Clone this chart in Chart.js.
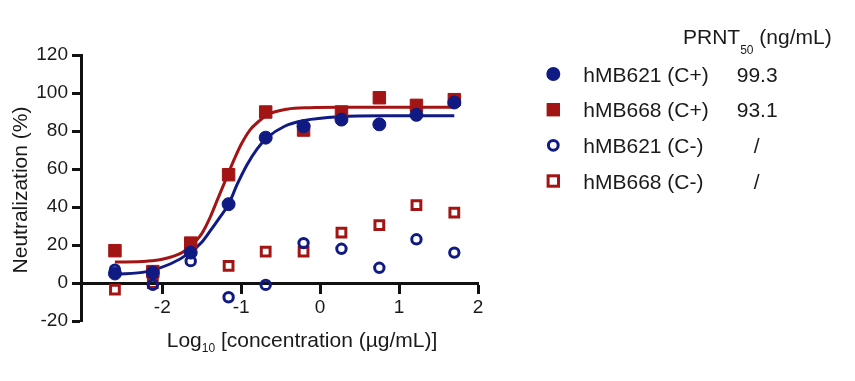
<!DOCTYPE html>
<html>
<head>
<meta charset="utf-8">
<script src="https://cdn.jsdelivr.net/npm/chart.js@4.4.0/dist/chart.umd.min.js"></script>
<style>
  html, body { margin: 0; padding: 0; background: #fff; }
</style>
</head>
<body>
<canvas id="neut-chart" width="855" height="381"></canvas>
<script>
// Log10 concentration (µg/mL) of the dilution series
const logConc = [-2.6, -2.12, -1.64, -1.16, -0.69, -0.21, 0.27, 0.75, 1.22, 1.7];

// Neutralization (%)
const hMB621_pos = [5, 5.5, 16, 41.5, 76.5, 82.5, 86, 83.5, 88.5, 95];
const hMB668_pos = [17, 6, 21, 57, 90, 80.5, 90, 97.5, 93.5, 96.5];
const hMB621_neg = [7, -1, 11.5, -7.5, -1, 21, 18, 8, 23, 16];
const hMB668_neg = [-3.5, 0, 21, 9, 16.5, 16.5, 26.5, 30.5, 41, 37];

// fitted curves
const fit621X = [-2.6, -2.2, -1.9, -1.65, -1.5, -1.4, -1.28, -1.16, -1.05, -0.93, -0.8, -0.67, -0.45, -0.2, 0.25, 0.8, 1.7];
const fit621Y = [4.5, 6, 10, 16, 21.5, 27, 34, 41.5, 52, 62, 70.5, 76.5, 82.5, 85.5, 87.5, 88, 88];
const fit668X = [-2.6, -2.2, -2.0, -1.75, -1.64, -1.5, -1.4, -1.3, -1.2, -1.1, -1.0, -0.89, -0.78, -0.67, -0.42, -0.13, 0.25, 0.8, 1.7];
const fit668Y = [11, 11.5, 12.5, 16, 19.5, 26, 34, 44, 54, 64, 73, 80.5, 85, 88.5, 91.5, 92.3, 92.5, 92.5, 92.5];

// legend table
const seriesNames = ['hMB621 (C+)', 'hMB668 (C+)', 'hMB621 (C-)', 'hMB668 (C-)'];
const prnt50 = ['99.3', '93.1', '/', '/'];

const xTicks = [-2, -1, 0, 1, 2];
const yTicks = [-20, 0, 20, 40, 60, 80, 100, 120];

const BLUE = '#0f1a82';
const RED = '#a31515';
const INK = '#1a1a1a';
const FONT = '"Liberation Sans", Arial, sans-serif';

function pts(xs, ys) {
  return xs.map((x, i) => ({ x: x, y: ys[i] }));
}

// titles with subscripts + the PRNT50 legend table
const extras = {
  id: 'extras',
  afterDraw(chart) {
    const ctx = chart.ctx;
    ctx.save();
    ctx.fillStyle = INK;

    // y title
    ctx.save();
    ctx.translate(27, 190);
    ctx.rotate(-Math.PI / 2);
    ctx.font = '21px ' + FONT;
    ctx.textAlign = 'center';
    ctx.textBaseline = 'alphabetic';
    ctx.fillText('Neutralization (%)', 0, 0);
    ctx.restore();

    // x title: Log10 [concentration (µg/mL)]
    ctx.textBaseline = 'alphabetic';
    ctx.textAlign = 'left';
    ctx.font = '21px ' + FONT;
    const a = 'Log', b = ' [concentration (µg/mL)]';
    const wa = ctx.measureText(a).width, wb = ctx.measureText(b).width;
    ctx.font = '12px ' + FONT;
    const ws = ctx.measureText('10').width;
    let x0 = 302 - (wa + ws + wb) / 2;
    ctx.font = '21px ' + FONT;
    ctx.fillText(a, x0, 347);
    ctx.font = '12px ' + FONT;
    ctx.fillText('10', x0 + wa, 352);
    ctx.font = '21px ' + FONT;
    ctx.fillText(b, x0 + wa + ws, 347);

    // legend header: PRNT50 (ng/mL)
    ctx.font = '21px ' + FONT;
    const wp = ctx.measureText('PRNT').width;
    ctx.fillText('PRNT', 683, 43.5);
    ctx.font = '12px ' + FONT;
    const w50 = ctx.measureText('50').width;
    ctx.fillText('50', 683 + wp, 54);
    ctx.font = '21px ' + FONT;
    ctx.fillText(' (ng/mL)', 683 + wp + w50, 43.5);

    // legend rows
    const rowY = [74, 109.7, 145.3, 181];
    const colors = [BLUE, RED, BLUE, RED];
    seriesNames.forEach((name, i) => {
      const cy = rowY[i];
      const mx = 553.3;
      ctx.fillStyle = colors[i];
      ctx.strokeStyle = colors[i];
      ctx.lineWidth = 3;
      if (i === 0) {
        ctx.beginPath(); ctx.arc(mx, cy, 7, 0, Math.PI * 2); ctx.fill();
      } else if (i === 1) {
        ctx.fillRect(mx - 6.7, cy - 6.7, 13.4, 13.4);
      } else if (i === 2) {
        ctx.beginPath(); ctx.arc(mx, cy, 4.9, 0, Math.PI * 2); ctx.stroke();
      } else {
        ctx.strokeRect(mx - 5.2, cy - 5.2, 10.4, 10.4);
      }
      ctx.fillStyle = INK;
      ctx.font = '21px ' + FONT;
      ctx.textAlign = 'left';
      ctx.fillText(name, 583.3, cy + 7.7);
      if (prnt50[i] === '/') {
        ctx.textAlign = 'center';
        ctx.fillText(prnt50[i], 756.7, cy + 7.7);
      } else {
        ctx.fillText(prnt50[i], 736.7, cy + 7.7);
      }
    });
    ctx.restore();
  }
};

const ctxNeut = document.getElementById('neut-chart');

new Chart(ctxNeut, {
  type: 'scatter',
  data: {
    datasets: [
      {
        label: seriesNames[0], data: pts(logConc, hMB621_pos), order: 0,
        pointStyle: 'circle', pointRadius: 6.5, pointBorderWidth: 1,
        backgroundColor: BLUE, borderColor: BLUE
      },
      {
        label: seriesNames[1], data: pts(logConc, hMB668_pos), order: 1,
        pointStyle: 'rect', pointRadius: 8.8, pointBorderWidth: 1,
        backgroundColor: RED, borderColor: RED
      },
      {
        label: seriesNames[2], data: pts(logConc, hMB621_neg), order: 2,
        pointStyle: 'circle', pointRadius: 4.7, pointBorderWidth: 3,
        backgroundColor: 'rgba(0,0,0,0)', borderColor: BLUE
      },
      {
        label: seriesNames[3], data: pts(logConc, hMB668_neg), order: 3,
        pointStyle: 'rect', pointRadius: 6.2, pointBorderWidth: 3,
        backgroundColor: 'rgba(0,0,0,0)', borderColor: RED
      },
      {
        label: 'fit hMB621', data: pts(fit621X, fit621Y), order: 4,
        showLine: true, pointRadius: 0, borderWidth: 3, borderColor: BLUE,
        cubicInterpolationMode: 'monotone'
      },
      {
        label: 'fit hMB668', data: pts(fit668X, fit668Y), order: 5,
        showLine: true, pointRadius: 0, borderWidth: 3, borderColor: RED,
        cubicInterpolationMode: 'monotone'
      }
    ]
  },
  options: {
    responsive: false,
    animation: false,
    layout: { padding: { top: 55, right: 377, bottom: 60, left: 0 } },
    plugins: {
      legend: { display: false },
      tooltip: { enabled: false }
    },
    scales: {
      x: {
        type: 'linear',
        position: { y: 0 },
        min: -3.03,
        max: 2,
        afterBuildTicks: (scale) => { scale.ticks = xTicks.map(v => ({ value: v })); },
        afterFit: (scale) => { scale.height = 0; },
        ticks: { color: INK, font: { family: FONT, size: 19 }, padding: 4 },
        grid: { drawOnChartArea: false, drawTicks: true, tickLength: 9, tickWidth: 3, tickColor: '#111' },
        border: { display: true, width: 3, color: '#111' },
        title: { display: false }
      },
      y: {
        type: 'linear',
        position: 'left',
        min: -20,
        max: 120,
        afterBuildTicks: (scale) => { scale.ticks = yTicks.map(v => ({ value: v })); },
        afterFit: (scale) => { scale.width = 81; },
        ticks: { color: INK, font: { family: FONT, size: 19 }, padding: 4 },
        grid: { drawOnChartArea: false, drawTicks: true, tickLength: 9, tickWidth: 3, tickColor: '#111' },
        border: { display: true, width: 3, color: '#111' },
        title: { display: false }
      }
    }
  },
  plugins: [extras]
});
</script>
</body>
</html>
